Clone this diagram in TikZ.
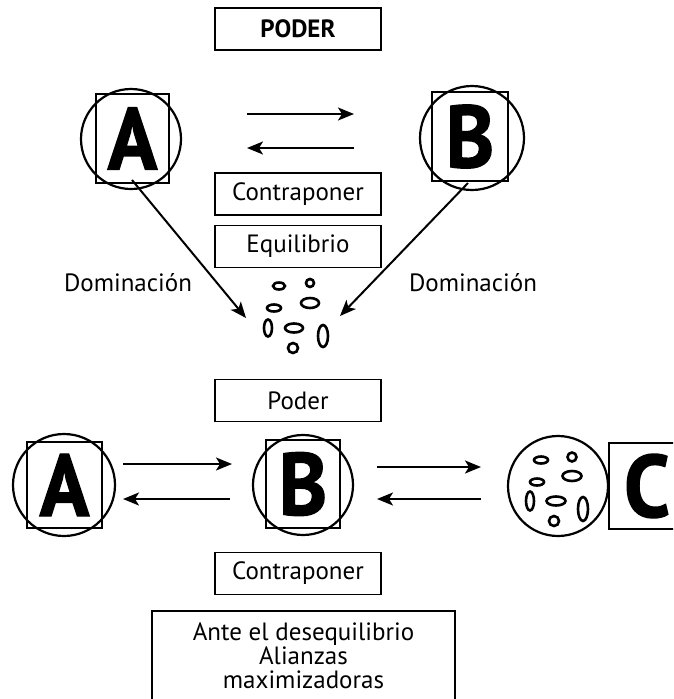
\documentclass[tikz,border=0pt]{standalone}
\usepackage{fontspec}
\setmainfont{PT Sans}
\newfontfamily\heavyfont{PT Sans Bold}[FakeBold=1.6,FakeStretch=0.93]
\usetikzlibrary{arrows.meta}
\begin{document}
\begin{tikzpicture}[x=1pt,y=-1pt,
  line width=2pt,
  lbl/.style={draw,line width=1.6pt,minimum width=166pt,minimum height=42pt,inner sep=0pt,font=\fontsize{25}{26}\selectfont},
  letterbox/.style={draw,line width=2pt,inner sep=0pt,font=\fontsize{88}{88}\selectfont\heavyfont},
  ring/.style={draw,circle,line width=2.2pt,inner sep=0pt},
  txt/.style={font=\fontsize{25}{26}\selectfont,inner sep=0pt},
  blob/.style={line width=2.6pt},
  arr/.style={line width=2pt,-{Stealth[length=16pt,width=13pt,inset=4pt]}}
]
\useasboundingbox (0,0) rectangle (673,699);
\clip (0,0) rectangle (673,699);
% top
\node[lbl,font=\fontsize{25}{26}\selectfont\bfseries] (poder1) at (298,29) {PODER};
\node[letterbox,minimum width=73pt,minimum height=89pt] (A1) at (132.5,138.5) {A};
\node[ring,minimum size=100pt] (cA1) at (131,139) {};
\node[letterbox,minimum width=76pt,minimum height=89pt] (B1) at (470,136.5) {B};
\node[ring,minimum size=104pt] (cB1) at (472,138) {};
\coordinate (t1a) at (247,114); \coordinate (t1b) at (354,114);
\coordinate (t2a) at (354,148); \coordinate (t2b) at (247,148);
\draw[arr] (t1a) -- (t1b);
\draw[arr] (t2a) -- (t2b);
\node[lbl] (contra1) at (298,194) {Contraponer};
\node[lbl] (equi) at (298,246.5) {Equilibrio};
\node[txt] (domL) at (128,283) {Dominación};
\node[txt] (domR) at (473,283) {Dominación};
\coordinate (tipL) at (246,318);
\coordinate (tipR) at (340,316);
\coordinate (stL) at (132,180);
\coordinate (stR) at (468,183);
\draw[arr] (stL) -- (tipL);
\draw[arr] (stR) -- (tipR);
% blobs top
\draw[blob] (279,286) ellipse (6 and 3.5);
\draw[blob] (310,283) circle (4);
\draw[blob] (274,308) ellipse (7 and 3.5);
\draw[blob] (310,303) ellipse (9 and 5);
\draw[blob] (268,328) ellipse (4 and 8.5);
\draw[blob] (294,328) ellipse (9 and 4.5);
\draw[blob] (323,336) ellipse (5 and 11);
\draw[blob] (293,348) circle (5);
% middle
\node[lbl] (poder2) at (298,400.5) {Poder};
\node[letterbox,minimum width=75pt,minimum height=86pt] (A2) at (64.5,485) {A};
\node[ring,minimum size=102pt] (cA2) at (64,485) {};
\node[letterbox,minimum width=74pt,minimum height=88pt] (B2) at (303,484) {B};
\node[ring,minimum size=100pt] (cB2) at (303,485) {};
\node[ring,minimum size=100pt] (cC) at (558,486) {};
\node[letterbox,minimum width=76pt,minimum height=86pt] (C2) at (647,486) {C};
\coordinate (m1a) at (123,464); \coordinate (m1b) at (232,464);
\coordinate (m2a) at (230,499); \coordinate (m2b) at (123,499);
\coordinate (m3a) at (377,467); \coordinate (m3b) at (481,467);
\coordinate (m4a) at (481,499); \coordinate (m4b) at (377,499);
\draw[arr] (m1a) -- (m1b);
\draw[arr] (m2a) -- (m2b);
\draw[arr] (m3a) -- (m3b);
\draw[arr] (m4a) -- (m4b);
% blobs C
\draw[blob] (541,460) ellipse (7 and 3.5);
\draw[blob] (572,457) circle (4.5);
\draw[blob] (537,482) ellipse (7 and 3.5);
\draw[blob] (572,476) ellipse (9.5 and 5);
\draw[blob] (530,501) ellipse (4 and 9.5);
\draw[blob] (556,501) ellipse (9.5 and 4.5);
\draw[blob] (583,509) ellipse (5 and 12);
\draw[blob] (554,521) circle (5);
% bottom
\node[lbl] (contra2) at (298,573.5) {Contraponer};
\node[draw,line width=1.6pt,minimum width=303pt,minimum height=110pt,anchor=north,inner sep=0pt] (ante) at (303.5,610) {};
\node[txt,align=center,font=\fontsize{25}{24}\selectfont] (anteT) at (303.5,656) {Ante el desequilibrio\\Alianzas\\maximizadoras};
\end{tikzpicture}
\end{document}
